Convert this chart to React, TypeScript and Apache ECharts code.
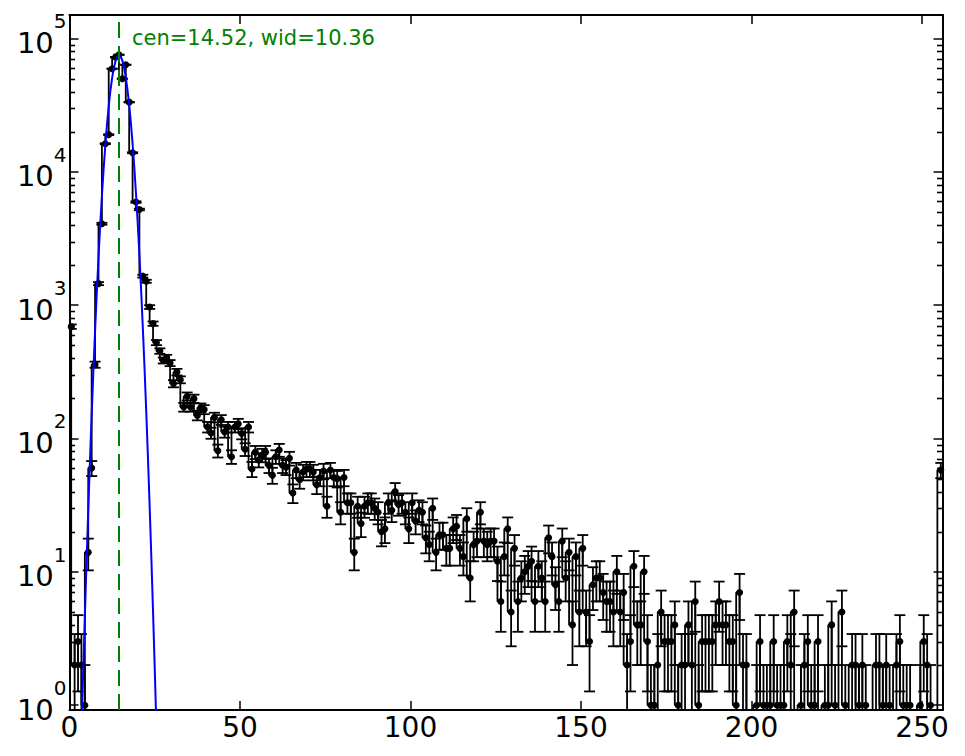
import React, { useEffect, useRef } from "react";
import * as echarts from "echarts";

// ---- axis settings ----
const xMin = 0;
const xMax = 256;
const xTickStep = 50;
const xTickLabels = [0, 50, 100, 150, 200, 250];
const yMin = 0.92;
const yMax = 1.5e5;
const minorDecades = [1, 10, 100, 1000, 10000];
const minorMultipliers = [2, 3, 4, 5, 6, 7, 8, 9];

// ---- histogram counts, one per bin (bin i is centred at i + 0.5) ----
const counts = [
  690, 2, 3, 2, 1, 14, 60, 358, 1450, 4080, 16250, 19000, 59300, 72400, 75500, 49900,
  63500, 33300, 13900, 5930, 5220, 1650, 1510, 968, 727, 524, 453, 385, 404, 368, 258, 315,
  276, 172, 207, 172, 199, 149, 170, 165, 122, 110, 144, 81, 138, 112, 122, 73,
  122, 129, 109, 83, 122, 59, 79, 69, 75, 79, 63, 53, 73, 82, 63, 61,
  71, 39, 58, 49, 56, 59, 59, 56, 45, 51, 57, 31, 58, 51, 50, 28,
  51, 33, 33, 14, 31, 23, 31, 33, 33, 30, 28, 20, 21, 33, 29, 40,
  32, 33, 28, 21, 33, 24, 29, 28, 18, 16, 30, 14, 19, 19, 15, 15,
  21, 22, 15, 13, 25, 9, 16, 17, 28, 17, 16, 17, 17, 12, 6, 13,
  21, 5, 15, 6, 9, 10, 11, 12, 6, 11, 9, 6, 18, 13, 8, 6,
  17, 9, 14, 4, 13, 5, 15, 5, 3, 8, 9, 9, 7, 6, 6, 5,
  10, 5, 7, 2, 3, 11, 4, 4, 10, 3, 1, 1, 2, 5, 3, 3,
  3, 4, 1, 2, 2, 4, 2, 6, 1, 3, 3, 3, 3, 4, 6, 4,
  4, 3, 3, 1, 7, 2, 2, 0, 0, 1, 3, 1, 1, 1, 3, 1,
  1, 1, 3, 2, 5, 0, 1, 2, 3, 1, 1, 3, 0, 1, 1, 4,
  1, 0, 5, 1, 0, 2, 2, 1, 2, 1, 0, 0, 2, 2, 1, 2,
  1, 0, 2, 3, 1, 1, 1, 0, 0, 1, 3, 2, 1, 0, 0, 58,
];

// ---- fitted curve ----
const fitX = [
  3, 3.5, 4, 4.5, 5, 5.5, 6, 6.5, 7, 7.5, 8, 8.5, 9, 9.5, 10, 10.5, 11, 11.5, 12, 12.5,
  13, 13.5, 14, 14.5, 15, 15.5, 16, 16.5, 17, 17.5, 18, 18.5, 19, 19.5, 20, 20.5, 21, 21.5,
  22, 22.5, 23, 23.5, 24, 24.5, 25, 25.5, 26, 26.5,
];
const fitY = [
  0.21, 0.61, 1.72, 4.6, 11.9, 29.1, 67.9, 151, 319, 644, 1240, 2270, 3962, 6590, 10440, 15760,
  22680, 31100, 40630, 50580, 60000, 67830, 73070, 75000, 73350, 68360, 60700, 51370, 41420,
  31830, 23300, 16250, 10810, 6850, 4130, 2380, 1303, 680, 338, 160, 72.5, 31.2, 12.8, 5.0,
  1.87, 0.66, 0.22, 0.083,
];
const fitCenter = 14.52;
const fitWidth = 10.36;
const annotation = `cen=${fitCenter.toFixed(2)}, wid=${fitWidth.toFixed(2)}`;

const FONT = "DejaVu Sans";

export default function App() {
  const ref = useRef<HTMLDivElement>(null);

  useEffect(() => {
    if (!ref.current) return;
    const chart = echarts.init(ref.current, undefined, { renderer: "svg" });

    const binData = counts.map((c, i) => [i + 0.5, c]);
    const stepData = counts.map((c, i) =>
      c > 0 ? { value: [i + 0.5, c] } : { value: [i + 0.5, 1e-3], symbol: "none" }
    );
    const fitData = fitX.map((x, i) => [x, fitY[i]]);
    const minorValues: number[] = [];
    minorDecades.forEach((d) => {
      minorMultipliers.forEach((m) => {
        minorValues.push(m * d);
      });
    });

    const black = "#000000";
    const axisLine = { show: true, onZero: false, lineStyle: { color: black, width: 2 } };
    const tick = { show: true, inside: true, length: 9, lineStyle: { color: black, width: 1.5 } };

    const yFormatter = (v: number) => {
      const l = Math.log10(v);
      const e = Math.round(l);
      if (Math.abs(l - e) > 1e-6) return "";
      return `{b|10}{e|${e}}`;
    };
    const xFormatter = (v: number) => {
      const r = Math.round(v);
      return Math.abs(v - r) < 1e-6 && xTickLabels.includes(r) ? String(r) : "";
    };

    const annotationGraphic = {
      id: "annotation",
      type: "text",
      x: 132,
      y: 38,
      silent: true,
      style: {
        text: annotation,
        fill: "#008000",
        fontFamily: FONT,
        fontSize: 21,
        align: "left",
        verticalAlign: "middle",
        textAlign: "left",
        textVerticalAlign: "middle",
      },
    };

    const option: any = {
      animation: false,
      backgroundColor: "#ffffff",
      grid: {
        left: 69.5,
        right: 22.5,
        top: 15,
        bottom: 46,
        containLabel: false,
        outerBoundsMode: "none",
      },
      xAxis: [
        {
          type: "value",
          position: "bottom",
          min: xMin,
          max: xMax,
          interval: xTickStep,
          axisLine,
          axisTick: tick,
          splitLine: { show: false },
          axisLabel: {
            show: true,
            formatter: xFormatter,
            color: black,
            fontFamily: FONT,
            fontSize: 28,
            lineHeight: 28,
            margin: 3,
            hideOverlap: false,
          },
        },
        {
          type: "value",
          position: "top",
          min: xMin,
          max: xMax,
          interval: xTickStep,
          axisLine,
          axisTick: tick,
          splitLine: { show: false },
          axisLabel: { show: false },
        },
      ],
      yAxis: [
        {
          type: "log",
          logBase: 10,
          position: "left",
          min: yMin,
          max: yMax,
          axisLine,
          axisTick: tick,
          splitLine: { show: false },
          axisLabel: {
            show: true,
            formatter: yFormatter,
            margin: 3,
            hideOverlap: false,
            rich: {
              b: {
                fontFamily: FONT,
                fontSize: 29,
                lineHeight: 29,
                color: black,
                padding: [9, 0, 0, 0],
              },
              e: {
                fontFamily: FONT,
                fontSize: 20,
                lineHeight: 20,
                color: black,
                padding: [0, 0, 34, 0],
              },
            },
          },
        },
        {
          type: "log",
          logBase: 10,
          position: "right",
          min: yMin,
          max: yMax,
          axisLine,
          axisTick: tick,
          splitLine: { show: false },
          axisLabel: { show: false },
        },
      ],
      graphic: [annotationGraphic],
      series: [
        {
          name: "errors",
          type: "custom",
          xAxisIndex: 0,
          yAxisIndex: 0,
          silent: true,
          clip: true,
          z: 2,
          data: binData,
          renderItem: (params: any, api: any) => {
            const x = api.value(0) as number;
            const v = api.value(1) as number;
            if (!(v > 0)) return null;
            const cs = params.coordSys;
            const bottom = cs.y + cs.height;
            const err = Math.sqrt(v);
            const hi = api.coord([x, v + err]);
            const cx = hi[0];
            let loY = bottom;
            let loCap = false;
            if (v - err > 0) {
              const lo = api.coord([x, v - err]);
              if (lo[1] < bottom) {
                loY = lo[1];
                loCap = true;
              }
            }
            const half = 5.5;
            const style = { stroke: black, lineWidth: 1.8 };
            const children: any[] = [
              { type: "line", shape: { x1: cx, y1: hi[1], x2: cx, y2: loY }, style },
              { type: "line", shape: { x1: cx - half, y1: hi[1], x2: cx + half, y2: hi[1] }, style },
            ];
            if (loCap)
              children.push({
                type: "line",
                shape: { x1: cx - half, y1: loY, x2: cx + half, y2: loY },
                style,
              });
            return { type: "group", children };
          },
        },
        {
          name: "counts",
          type: "line",
          xAxisIndex: 0,
          yAxisIndex: 0,
          step: "start",
          clip: true,
          silent: true,
          z: 3,
          data: stepData,
          showSymbol: true,
          showAllSymbol: true,
          symbol: "circle",
          symbolSize: 7,
          itemStyle: { color: black, borderWidth: 0 },
          lineStyle: { color: black, width: 1.8 },
          emphasis: { disabled: true },
        },
        {
          name: "fit",
          type: "line",
          xAxisIndex: 0,
          yAxisIndex: 0,
          clip: true,
          silent: true,
          z: 4,
          data: fitData,
          showSymbol: false,
          symbol: "none",
          lineStyle: { color: "#0000ff", width: 2 },
          emphasis: { disabled: true },
          markLine: {
            silent: true,
            symbol: ["none", "none"],
            label: { show: false },
            lineStyle: { color: "#008000", width: 2, type: [16, 8] },
            emphasis: { disabled: true },
            data: [{ xAxis: fitCenter }],
          },
        },
      ],
    };

    chart.setOption(option);

    // minor log ticks on both frame sides, placed through the axis scale
    try {
      const left = chart.convertToPixel({ xAxisIndex: 0 }, xMin) as number;
      const right = chart.convertToPixel({ xAxisIndex: 0 }, xMax) as number;
      const tickEls: any[] = [];
      minorValues.forEach((mv, k) => {
        const py = chart.convertToPixel({ yAxisIndex: 0 }, mv) as number;
        if (typeof py !== "number" || !isFinite(py)) return;
        const y = Math.round(py) + 0.5;
        tickEls.push({
          id: `minorL${k}`,
          type: "line",
          silent: true,
          z: 50,
          shape: { x1: left, y1: y, x2: left + 5.5, y2: y },
          style: { stroke: black, lineWidth: 1.6 },
        });
        tickEls.push({
          id: `minorR${k}`,
          type: "line",
          silent: true,
          z: 50,
          shape: { x1: right - 5.5, y1: y, x2: right, y2: y },
          style: { stroke: black, lineWidth: 1.6 },
        });
      });
      if (tickEls.length) chart.setOption({ graphic: [annotationGraphic, ...tickEls] });
    } catch (e) {
      // keep the chart as drawn
    }

    return () => chart.dispose();
  }, []);

  return (
    <div
      ref={ref}
      style={{ position: "fixed", left: 0, top: 0, width: 965, height: 756, background: "#fff" }}
    />
  );
}
